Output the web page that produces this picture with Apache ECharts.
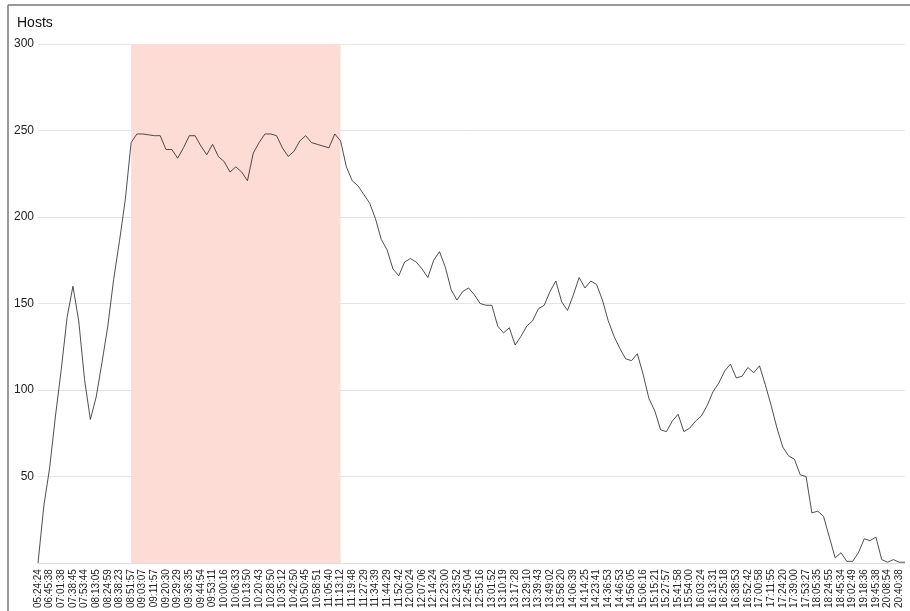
<!DOCTYPE html>
<html>
<head>
<meta charset="utf-8">
<script src="https://cdn.jsdelivr.net/npm/echarts@6/dist/echarts.min.js"></script>
<style>
  html, body { margin: 0; padding: 0; background: #fff; }
  #chart { width: 910px; height: 611px; }
</style>
</head>
<body>
<div id="chart"></div>
<script>
// tick labels shown under the x axis (one every second sample)
const timeLabels = [
    '05:24:24', '06:45:38', '07:01:38', '07:38:45', '07:53:44', '08:13:05', '08:24:59', '08:38:23',
    '08:51:57', '09:03:07', '09:11:57', '09:20:30', '09:29:29', '09:36:35', '09:44:54', '09:53:11',
    '10:00:16', '10:06:33', '10:13:50', '10:20:43', '10:28:50', '10:35:12', '10:42:50', '10:50:45',
    '10:58:51', '11:05:40', '11:13:12', '11:19:48', '11:27:29', '11:34:39', '11:44:29', '11:52:42',
    '12:00:24', '12:07:06', '12:14:24', '12:23:00', '12:33:52', '12:45:04', '12:55:16', '13:01:52',
    '13:10:19', '13:17:28', '13:29:10', '13:39:43', '13:49:02', '13:58:20', '14:06:39', '14:14:25',
    '14:23:41', '14:36:53', '14:46:53', '14:56:05', '15:06:16', '15:15:21', '15:27:57', '15:41:58',
    '15:54:00', '16:03:24', '16:13:31', '16:25:18', '16:38:53', '16:52:42', '17:00:58', '17:11:55',
    '17:24:20', '17:39:00', '17:53:27', '18:05:35', '18:24:55', '18:45:34', '19:02:49', '19:18:36',
    '19:45:38', '20:08:54', '20:40:38'
];

// hosts, two samples per labelled tick (labelled sample, then the one in between)
const hosts = [
    0, 33, 55, 85, 112, 142, 160, 140, 106, 83,
    96, 116, 137, 164, 186, 210, 243, 248, 248, 247.5,
    247, 247, 239, 239, 234, 240, 247, 247, 241, 236,
    242, 235, 232, 226, 229, 226, 221, 237, 243, 248,
    248, 247, 240, 235, 238, 244, 247, 243, 242, 241,
    240, 248, 244, 229, 221, 218, 213, 208, 199, 187,
    181, 170, 166, 174, 176, 174, 170, 165, 175, 180,
    171, 158, 152, 157, 159, 155, 150, 149, 149, 137,
    133, 136, 126, 131, 137, 140, 147, 149, 157, 163,
    151, 146, 155, 165, 159, 163, 161, 152, 140, 131,
    124, 118, 117, 121, 109, 95, 88, 77, 76, 82,
    86, 76, 78, 82, 85, 91, 99, 104, 111, 115,
    107, 108, 113, 110, 114, 103, 91, 78, 67, 62,
    60, 51, 50, 29, 30, 27, 15, 3, 6, 1,
    1, 6, 14, 13, 15, 2, 0.5, 2, 0.5, 0.5
];

// highlighted window
const windowStart = '08:51:57';
const windowEnd = '11:13:12';

const yTicks = { min: 0, max: 300, interval: 50 };

//unnamed in-between samples
const categories = [];
timeLabels.forEach(function (t) {
    categories.push(t, '');
});

const chart = echarts.init(document.getElementById('chart'), null, { renderer: 'canvas' });

const font = 'Liberation Sans, Arial, sans-serif';

chart.setOption({
    animation: false,
    backgroundColor: '#fff',
    title: {
        text: 'Hosts',
        left: 12,
        top: 11,
        textStyle: { fontFamily: font, fontSize: 14, fontWeight: 500, color: '#111' }
    },
    graphic: [
        { type: 'line', shape: { x1: 8, y1: 5, x2: 910, y2: 5 }, style: { stroke: '#777', lineWidth: 1.5 } },
        { type: 'line', shape: { x1: 8, y1: 5, x2: 8, y2: 611 }, style: { stroke: '#777', lineWidth: 1.5 } }
    ],
    grid: { left: 38, right: 5, top: 44, bottom: 45, containLabel: false },
    xAxis: {
        type: 'category',
        data: categories,
        boundaryGap: false,
        axisLine: { show: true, lineStyle: { color: '#ddd', width: 1 } },
        axisTick: { show: false },
        splitLine: { show: false },
        axisLabel: {
            interval: 1,
            rotate: 90,
            margin: 6,
            fontFamily: font,
            fontSize: 10,
            color: '#222'
        }
    },
    yAxis: {
        type: 'value',
        min: yTicks.min,
        max: yTicks.max,
        interval: yTicks.interval,
        axisLine: { show: false },
        axisTick: { show: false },
        splitLine: { lineStyle: { color: '#e4e4e4', width: 1 } },
        axisLabel: {
            showMinLabel: false,
            margin: 4,
            fontFamily: font,
            fontSize: 12,
            color: '#222'
        }
    },
    series: [{
        name: 'Hosts',
        type: 'line',
        data: hosts,
        showSymbol: false,
        smooth: false,
        lineStyle: { color: '#222', width: 0.8 },
        markArea: {
            silent: true,
            itemStyle: { color: '#fddcd6' },
            data: [[{ xAxis: windowStart }, { xAxis: windowEnd }]]
        }
    }]
});
</script>
</body>
</html>
